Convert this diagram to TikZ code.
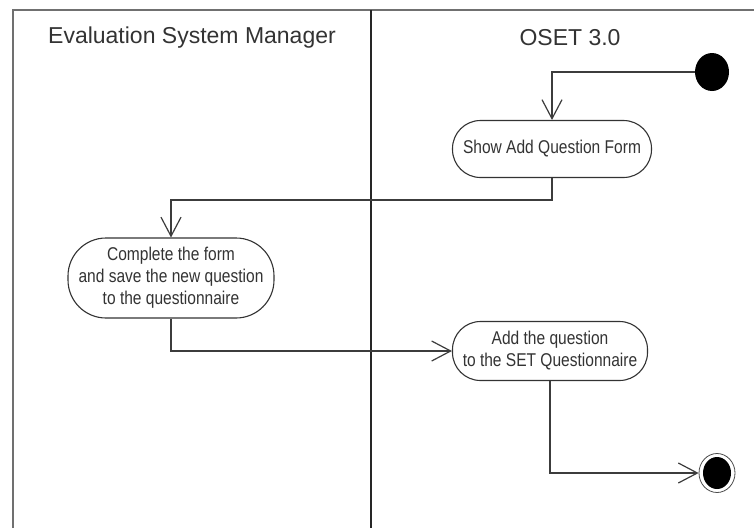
\documentclass[tikz,border=0pt]{standalone}
\usepackage{fontspec}
\setmainfont{Liberation Sans}
\newfontfamily\boxfont[FakeStretch=0.84]{Liberation Sans}
\usetikzlibrary{arrows.meta,shapes.geometric}
\definecolor{framegray}{HTML}{707070}
\definecolor{linegray}{HTML}{3C3C3C}
\definecolor{txtgray}{HTML}{333333}
\tikzset{
  frameline/.style={draw=framegray, line width=1.8pt},
  laneline/.style={draw=black!85, line width=1.6pt},
  header/.style={font=\fontsize{23}{27}\selectfont, text=txtgray, inner sep=0pt},
  act/.style={draw=black!80, line width=1.1pt, fill=white, align=center,
    font=\boxfont\fontsize{18.5}{22}\selectfont, text=txtgray, inner sep=0pt},
  flow/.style={draw=linegray, line width=1.5pt,
    -{Straight Barb[length=19pt,width=20pt,line width=1.2pt]}},
  startnode/.style={ellipse, fill=black, minimum width=34pt, minimum height=38pt, inner sep=0pt},
  endouter/.style={ellipse, draw=black!70, line width=0.8pt, minimum width=36pt, minimum height=39pt, inner sep=0pt},
  endinner/.style={ellipse, fill=black, minimum width=28pt, minimum height=32pt, inner sep=0pt},
}
\begin{document}
\begin{tikzpicture}[x=1pt,y=-1pt]
\useasboundingbox (0,0) rectangle (754,528);
\fill[white] (0,0) rectangle (754,528);
% swimlane frame
\draw[frameline] (13,528) -- (13,10) -- (754,10);
\draw[laneline] (371,10) -- (371,528);
\node[header] (h1) at (192,38) {Evaluation System Manager};
\node[header] (h2) at (570,38) {OSET 3.0};
% nodes
\node[startnode] (start) at (712,72) {};
\node[act, minimum width=199pt, minimum height=57pt, rounded corners=28pt] (box1) at (552,149) {Show Add Question Form};
\node[act, minimum width=206pt, minimum height=80pt, rounded corners=38pt] (box2) at (171,278) {Complete the form\\and save the new question\\to the questionnaire};
\node[act, minimum width=195pt, minimum height=59pt, rounded corners=28pt] (box3) at (550,351) {Add the question\\to the SET Questionnaire};
\node[endouter] (end) at (717,473) {};
\node[endinner] (endin) at (end.center) {};
% flows
\draw[flow] (start.west) -| (box1.north);
\draw[flow] (box1.south) |- (box2.north |- 0,200) -- (box2.north);
\draw[flow] (box2.south) |- (box3.west);
\draw[flow] (box3.south) |- (end.west);
\end{tikzpicture}
\end{document}
